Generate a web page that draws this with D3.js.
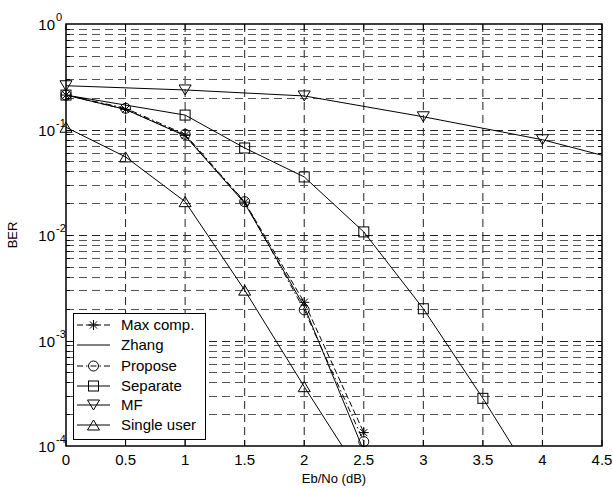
<!DOCTYPE html>
<html>
<head>
<meta charset="utf-8">
<script src="https://cdn.jsdelivr.net/npm/d3@7"></script>
<style>
  html, body { margin: 0; padding: 0; background: #ffffff; }
  svg { display: block; font-family: "Liberation Sans", Arial, Helvetica, sans-serif; }
</style>
</head>
<body>
<svg id="chart" width="613" height="488"></svg>
<script>
// Eb/No points (dB)
const ebno = [0, 0.5, 1, 1.5, 2, 2.5, 3, 3.5, 4, 4.5];

// BER per detector
const maxComp   = [0.212, 0.155, 0.088, 0.0205, 0.0023, 0.000134];
const zhang     = [0.212, 0.155, 0.087, 0.0200, 0.0021, 0.00009];
const propose   = [0.212, 0.159, 0.090, 0.0207, 0.00195, 0.00011];
const separate  = [0.212, null, 0.137, 0.0668, 0.0355, 0.0107, 0.0020, 0.000283, 0.000035];
const mf        = [0.260, null, 0.237, null, 0.208, null, 0.132, null, 0.080, 0.057];
const singleUser= [0.105, 0.055, 0.0207, 0.0030, 0.000365, 0.000048];

// marker shown only at these x positions (MF and Separate use whole-dB markers on the line)
const mfMarkers = [0, 1, 2, 3, 4];
const sepMarkers = [0, 1, 1.5, 2, 2.5, 3, 3.5];

const xTicks = [0, 0.5, 1, 1.5, 2, 2.5, 3, 3.5, 4, 4.5];
const xTickLabels = ["0", "0.5", "1", "1.5", "2", "2.5", "3", "3.5", "4", "4.5"];
const yDecades = [1, 0.1, 0.01, 0.001, 0.0001];
const yExponents = ["0", "-1", "-2", "-3", "-4"];

const legendNames = ["Max comp.", "Zhang", "Propose", "Separate", "MF", "Single user"];

const svg = d3.select("#chart");
const L = 66, R = 602, T = 24, B = 446;

const x = d3.scaleLinear().domain([0, 4.5]).range([L, R]);
const y = d3.scaleLog().domain([1e-4, 1]).range([B, T]);

// clip region for curves
svg.append("defs").append("clipPath").attr("id", "plotClip")
  .append("rect").attr("x", L).attr("y", T).attr("width", R - L).attr("height", B - T);

svg.append("rect").attr("x", L).attr("y", T).attr("width", R - L).attr("height", B - T)
  .attr("fill", "#ffffff");

// grid lines
const grid = svg.append("g");
xTicks.slice(1, -1).forEach(t => {
  grid.append("line").attr("x1", x(t)).attr("x2", x(t)).attr("y1", T).attr("y2", B)
    .attr("stroke", "#222").attr("stroke-width", 1).attr("stroke-dasharray", "8,5");
});
const minorVals = [];
[-4, -3, -2, -1].forEach(k => {
  for (let m = 1; m <= 9; m++) {
    const v = m * Math.pow(10, k);
    if (v > 1e-4 && v < 1) minorVals.push({ v, major: m === 1 });
  }
});
minorVals.forEach(d => {
  grid.append("line").attr("x1", L).attr("x2", R)
    .attr("y1", Math.round(y(d.v)) + 0.5).attr("y2", Math.round(y(d.v)) + 0.5)
    .attr("stroke", d.major ? "#222" : "#555").attr("stroke-width", 1)
    .attr("stroke-dasharray", "8,5");
});

// axis box and ticks
const axes = svg.append("g").attr("stroke", "#000").attr("stroke-width", 1);
xTicks.forEach(t => {
  axes.append("line").attr("x1", x(t)).attr("x2", x(t)).attr("y1", B).attr("y2", B - 6);
  axes.append("line").attr("x1", x(t)).attr("x2", x(t)).attr("y1", T).attr("y2", T + 6);
});
minorVals.forEach(d => {
  const len = d.major ? 6 : 4;
  const yy = Math.round(y(d.v)) + 0.5;
  axes.append("line").attr("x1", L).attr("x2", L + len).attr("y1", yy).attr("y2", yy);
  axes.append("line").attr("x1", R).attr("x2", R - len).attr("y1", yy).attr("y2", yy);
});
axes.append("rect").attr("x", L).attr("y", T).attr("width", R - L).attr("height", B - T)
  .attr("fill", "none").attr("stroke-width", 1.5);

// tick labels
const labels = svg.append("g").attr("fill", "#000").attr("font-size", 15);
xTicks.forEach((t, i) => {
  labels.append("text").attr("x", x(t)).attr("y", 465).attr("text-anchor", "middle")
    .text(xTickLabels[i]);
});
yDecades.forEach((v, i) => {
  const t = labels.append("text").attr("x", 55).attr("y", y(v) + 6).attr("text-anchor", "end");
  t.text("10");
  labels.append("text").attr("x", 56).attr("y", y(v) - 3).attr("font-size", 11)
    .attr("text-anchor", "start").text(yExponents[i]);
});
labels.append("text").attr("x", (L + R) / 2).attr("y", 483).attr("text-anchor", "middle")
  .attr("font-size", 13).text("Eb/No (dB)");
labels.append("text").attr("transform", "translate(17," + ((T + B) / 2) + ") rotate(-90)")
  .attr("text-anchor", "middle").attr("font-size", 13).text("BER");

// curves
const toPts = arr => arr.map((v, i) => [ebno[i], v]).filter(d => d[1] != null);
const line = d3.line().x(d => x(d[0])).y(d => y(d[1]));
const curves = svg.append("g").attr("clip-path", "url(#plotClip)").attr("fill", "none")
  .attr("stroke", "#000").attr("stroke-width", 1);

const series = [
  { data: maxComp,    dash: "6,3",       marker: "star" },
  { data: zhang,      dash: null,        marker: null },
  { data: propose,    dash: "6,3,1.5,3", marker: "circle" },
  { data: separate,   dash: null,        marker: "square", at: sepMarkers },
  { data: mf,         dash: null,        marker: "down", at: mfMarkers },
  { data: singleUser, dash: null,        marker: "up" }
];

series.forEach(s => {
  curves.append("path").attr("d", line(toPts(s.data)))
    .attr("stroke-dasharray", s.dash);
});

function drawMarker(g, type, cx, cy) {
  const m = g.append("g").attr("transform", `translate(${cx},${cy})`)
    .attr("fill", "none").attr("stroke", "#000").attr("stroke-width", 1);
  if (type === "circle") m.append("circle").attr("r", 5);
  else if (type === "square") m.append("rect").attr("x", -5).attr("y", -5).attr("width", 10).attr("height", 10);
  else if (type === "down") m.append("path").attr("d", "M-6,-5L6,-5L0,5Z");
  else if (type === "up") m.append("path").attr("d", "M-6,5L6,5L0,-5Z");
  else if (type === "star") {
    m.append("path").attr("d", "M-5,0L5,0M0,-5L0,5M-3.6,-3.6L3.6,3.6M-3.6,3.6L3.6,-3.6");
  }
}

const markers = svg.append("g").attr("clip-path", "url(#plotClip)");
const markerClip = svg.append("g");
series.forEach(s => {
  if (!s.marker) return;
  toPts(s.data).forEach(d => {
    if (d[1] < 1e-4 * 0.97) return;
    if (s.at && !s.at.includes(d[0])) return;
    drawMarker(markerClip, s.marker, x(d[0]), y(Math.min(d[1], 1)));
  });
});

// legend
const lg = svg.append("g");
lg.append("rect").attr("x", 73.5).attr("y", 313.5).attr("width", 132).attr("height", 126)
  .attr("fill", "#ffffff").attr("stroke", "#000").attr("stroke-width", 1);
const legendY = [325, 345, 366, 386, 405, 425];
series.forEach((s, i) => {
  const yy = legendY[i];
  lg.append("line").attr("x1", 77).attr("x2", 110).attr("y1", yy).attr("y2", yy)
    .attr("stroke", "#000").attr("stroke-width", 1).attr("stroke-dasharray", s.dash);
  if (s.marker) drawMarker(lg, s.marker, 93.5, yy);
  lg.append("text").attr("x", 121).attr("y", yy + 5).attr("font-size", 15)
    .attr("fill", "#000").text(legendNames[i]);
});
</script>
</body>
</html>
